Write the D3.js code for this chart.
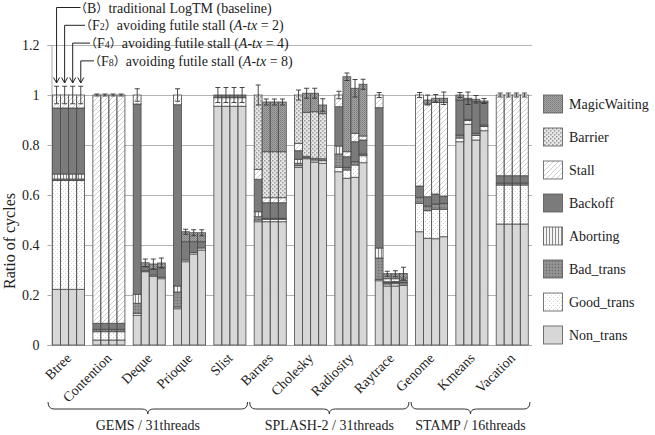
<!DOCTYPE html>
<html><head><meta charset="utf-8">
<script src="https://cdn.jsdelivr.net/npm/d3@7"></script>
<style>
html,body{margin:0;padding:0;background:#fff;}
svg{display:block;}
</style></head>
<body><svg id="c" width="655" height="435" font-family="Liberation Serif"></svg>
<script>
const categories = ["Btree","Contention","Deque","Prioque","Slist","Barnes","Cholesky","Radiosity","Raytrace","Genome","Kmeans","Vacation"];
const variants = ["B","F2","F4","F8"];
const seriesNames = ["Non_trans","Good_trans","Bad_trans","Aborting","Backoff","Stall","Barrier","MagicWaiting"];
const groupNames = ["GEMS / 31threads","SPLASH-2 / 31threads","STAMP / 16threads"];
const groupSpans = [[0,4],[5,8],[9,11]];
const yTicks = [0,0.2,0.4,0.6,0.8,1,1.2];
const yTickLabels = ["0","0.2","0.4","0.6","0.8","1","1.2"];

const nonTrans  = [[.223,.223,.223,.223],[.02,.02,.02,.02],[.119,.293,.275,.265],[.145,.333,.364,.38],[.955,.955,.955,.955],[.493,.493,.493,.493],[.711,.745,.732,.727],[.693,.667,.671,.729],[.257,.236,.236,.238],[.453,.427,.425,.433],[.813,.883,.82,.857],[.484,.484,.484,.484]];
const goodTrans = [[.435,.435,.435,.435],[.033,.033,.033,.033],[.008,.004,.005,.006],[.007,.007,.006,.008],[.034,.034,.034,.034],[.007,.01,.01,.01],[.006,.004,.008,.01],[.018,.033,.049,.028],[.006,.008,.009,.006],[.114,.11,.118,.11],[.015,.015,.018,.017],[.156,.156,.156,.156]];
const badTrans  = [[.006,.006,.006,.006],[.01,.01,.01,.01],[.04,0,0,0],[.06,0,0,0],[0,0,0,0],[.013,.004,.004,.004],[.01,.006,.007,.008],[.053,.011,.013,.007],[.085,.005,.005,.006],[.024,.019,.021,.024],[.012,.005,.009,.006],[.008,.008,.008,.008]];
const aborting  = [[.02,.02,.02,.02],[0,0,0,0],[.036,0,0,0],[.024,0,0,0],[0,0,0,0],[.02,0,0,0],[.016,0,0,0],[.032,0,0,0],[.04,0,0,0],[0,0,0,0],[0,0,0,0],[0,0,0,0]];
const backoff   = [[.264,.264,.264,.264],[.024,.024,.024,.024],[.761,.016,.023,.04],[.725,.073,.043,.025],[.011,.011,.011,.011],[.13,.062,.062,.062],[.034,0,0,0],[.157,.042,.08,.056],[.561,.004,.004,.01],[.045,.037,.04,.029],[.14,.078,.128,.09],[.029,.029,.029,.029]];
const stall     = [[.052,.052,.052,.052],[.913,.913,.913,.913],[.036,0,0,0],[.039,0,0,0],[0,0,0,0],[.04,.02,.02,.02],[.03,0,0,0],[.047,.02,.034,.016],[.051,.012,.011,.008],[.364,.371,.366,.374],[0,0,0,0],[.323,.323,.323,.323]];
const barrier   = [[0,0,0,0],[0,0,0,0],[0,0,0,0],[0,0,0,0],[0,0,0,0],[.297,.184,.184,.184],[.193,.176,.186,.18],[0,0,0,0],[0,0,0,0],[0,0,0,0],[0,0,0,0],[0,0,0,0]];
const magicWaiting = [[0,0,0,0],[0,0,0,0],[0,.016,.021,.017],[0,.04,.036,.036],[0,0,0,0],[0,.199,.199,.199],[0,.076,.074,.035],[0,.3,.18,.207],[0,.02,.02,.018],[0,.016,.017,.017],[.02,.006,.008,.006],[0,0,0,0]];
const errors    = [[.035,.035,.035,.035],[.004,.004,.004,.004],[.025,.015,.02,.02],[.025,.01,.012,.012],[.03,.03,.03,.03],[.04,.012,.012,.012],[.02,.02,.02,.025],[.015,.015,.035,.02],[.01,.01,.012,.025],[.01,.02,.015,.025],[.01,.025,.015,.01],[.008,.008,.008,.008]];

const seriesData = [nonTrans,goodTrans,badTrans,aborting,backoff,stall,barrier,magicWaiting];
const SERIF = "Liberation Serif";
const CJK = "Noto Sans CJK JP";

const svg = d3.select("#c");
const defs = svg.append("defs");
function pat(id,w,h,bg,draw){
  const p = defs.append("pattern").attr("id",id).attr("patternUnits","userSpaceOnUse").attr("width",w).attr("height",h);
  p.append("rect").attr("width",w).attr("height",h).attr("fill",bg);
  draw(p);
}
pat("pGood",4,4,"#ffffff",p=>{p.append("rect").attr("x",1).attr("y",1).attr("width",1).attr("height",1).attr("fill","#c8c8c8");p.append("rect").attr("x",3).attr("y",3).attr("width",1).attr("height",1).attr("fill","#dcdcdc");});
pat("pBad",3,3,"#8c8c8c",p=>{p.append("rect").attr("x",0).attr("y",0).attr("width",1).attr("height",1).attr("fill","#6e6e6e");p.append("rect").attr("x",1.5).attr("y",1.5).attr("width",1).attr("height",1).attr("fill","#a8a8a8");});
pat("pAbort",3,3,"#f4f4f4",p=>{p.append("rect").attr("x",0).attr("y",0).attr("width",1).attr("height",3).attr("fill","#8a8a8a");});
pat("pStall",5,5,"#ffffff",p=>{p.append("path").attr("d","M0,5 L5,0 M-1,1 L1,-1 M4,6 L6,4").attr("stroke","#cfcfcf").attr("stroke-width",1);});
pat("pBarrier",4,4,"#e6e6e6",p=>{p.append("rect").attr("x",0).attr("y",0).attr("width",1.5).attr("height",1.5).attr("fill","#9a9a9a");p.append("rect").attr("x",2).attr("y",2).attr("width",1.5).attr("height",1.5).attr("fill","#9a9a9a");});
pat("pMagic",2,2,"#a4a4a4",p=>{p.append("rect").attr("x",0).attr("y",0).attr("width",1).attr("height",1).attr("fill","#7a7a7a");p.append("rect").attr("x",1).attr("y",1).attr("width",1).attr("height",1).attr("fill","#8a8a8a");});
const fills = ["#d7d7d7","url(#pGood)","url(#pBad)","url(#pAbort)","#7b7b7b","url(#pStall)","url(#pBarrier)","url(#pMagic)"];

const x0 = d3.scaleBand().domain(categories).range([48,532]).paddingInner(0.2).paddingOuter(0.1);
const x1 = d3.scaleBand().domain(variants).range([0,x0.bandwidth()]);
const y = d3.scaleLinear().domain([0,1.2]).range([345,45]);

// grid
svg.append("g").selectAll("line").data(yTicks.slice(1)).join("line")
  .attr("x1",51.5).attr("x2",532).attr("y1",d=>Math.round(y(d))+0.5).attr("y2",d=>Math.round(y(d))+0.5)
  .attr("stroke","#b4b4b4").attr("stroke-width",1);
// y axis
const yAxis = d3.axisLeft(y).tickValues(yTicks).tickFormat((d,i)=>yTickLabels[i]).tickSize(4).tickPadding(8);
const ga = svg.append("g").attr("transform","translate(51.5,0)").call(yAxis).attr("font-family",SERIF).attr("font-size",14);
ga.select(".domain").attr("stroke","#aaaaaa");
ga.selectAll(".tick line").attr("stroke","#aaaaaa");
ga.selectAll(".tick text").attr("font-family",SERIF).attr("font-size",14).attr("fill","#222");
svg.append("line").attr("x1",51.5).attr("x2",532).attr("y1",345.5).attr("y2",345.5).attr("stroke","#aaaaaa");

// rows
const rows = [];
categories.forEach((c,gi)=>variants.forEach((v,vi)=>{
  const r = {cat:c,variant:v,gi,vi,err:errors[gi][vi]};
  seriesNames.forEach((s,si)=>r[s]=seriesData[si][gi][vi]);
  rows.push(r);
}));
const stack = d3.stack().keys(seriesNames)(rows);

const bars = svg.append("g");
stack.forEach((layer,si)=>{
  bars.append("g").selectAll("rect").data(layer.filter(d=>d[1]-d[0]>0)).join("rect")
    .attr("x",d=>x0(d.data.cat)+x1(d.data.variant)+0.5)
    .attr("width",x1.bandwidth()-0.2)
    .attr("y",d=>y(d[1]))
    .attr("height",d=>y(d[0])-y(d[1]))
    .attr("fill",fills[si])
    .attr("stroke","#4a4a4a").attr("stroke-width",0.8);
});

// error bars
const eb = svg.append("g").attr("stroke","#333").attr("stroke-width",0.9).attr("fill","none");
rows.forEach(r=>{
  const tot = seriesNames.reduce((a,s)=>a+r[s],0);
  const cx = x0(r.cat)+x1(r.variant)+x1.bandwidth()/2+0.5;
  const yt = y(tot+r.err), yb = y(tot-r.err);
  eb.append("path").attr("d",`M${cx},${yt}V${yb}M${cx-2.5},${yt}H${cx+2.5}M${cx-2.5},${yb}H${cx+2.5}`);
});

// x labels
svg.append("g").selectAll("text").data(categories).join("text")
  .attr("transform",d=>`translate(${x0(d)+x0.bandwidth()/2+4},${359}) rotate(-45)`)
  .attr("text-anchor","end").attr("font-family",SERIF).attr("font-size",14).attr("fill","#222").text(d=>d);

// braces
groupSpans.forEach((s,i)=>{
  const xa = x0(categories[s[0]])-4, xb = x0(categories[s[1]])+x0.bandwidth()+2;
  const xm = (xa+xb)/2, y0=402, ym=409, yt=414;
  svg.append("path").attr("fill","none").attr("stroke","#333").attr("stroke-width",1)
    .attr("d",`M${xa},${y0} Q${xa},${ym} ${xa+6},${ym} L${xm-6},${ym} Q${xm},${ym} ${xm},${yt} Q${xm},${ym} ${xm+6},${ym} L${xb-6},${ym} Q${xb},${ym} ${xb},${y0}`);
  svg.append("text").attr("x",xm).attr("y",430).attr("text-anchor","middle").attr("font-family",SERIF).attr("font-size",14).attr("fill","#222").text(groupNames[i]);
});

// legend
const legendOrder = seriesNames.map((s,i)=>i).reverse();
legendOrder.forEach((si,k)=>{
  const cy = 104 + k*33;
  svg.append("rect").attr("x",543.5).attr("y",cy-9).attr("width",19).attr("height",18).attr("fill",fills[si]).attr("stroke","#555").attr("stroke-width",0.8);
  svg.append("text").attr("x",569).attr("y",cy+5).attr("font-family",SERIF).attr("font-size",14).attr("fill","#222").text(seriesNames[si]);
});

// y label
svg.append("text").attr("transform","translate(15,241) rotate(-90)").attr("text-anchor","middle").attr("font-family",SERIF).attr("font-size",16).attr("fill","#222").text("Ratio of cycles");

// annotations
const ann = [
  {sub:"B", small:false, rest:"traditional LogTM (baseline)", n:null},
  {sub:"F", small:"2", rest:"avoiding futile stall (", n:"2"},
  {sub:"F", small:"4", rest:"avoiding futile stall (", n:"4"},
  {sub:"F", small:"8", rest:"avoiding futile stall (", n:"8"}
];
const lineEnds = [80.5,85,90,94];
const textStarts = [75,80,85,89];
ann.forEach((a,i)=>{
  const cx = x0(categories[0])+x1(variants[i])+x1.bandwidth()/2+0.5;
  const ly = 7.5 + i*17.8;
  svg.append("path").attr("fill","none").attr("stroke","#222").attr("stroke-width",1)
    .attr("d",`M${lineEnds[i]},${ly}H${cx}V${83}M${cx-3},${77.5}L${cx},${83}L${cx+3},${77.5}`);
  const t = svg.append("text").attr("x",textStarts[i]).attr("y",ly+5).attr("font-family",SERIF).attr("font-size",14).attr("fill","#222");
  t.append("tspan").attr("font-family",CJK).attr("font-size",12).text("（");
  t.append("tspan").attr("font-family",SERIF).text(a.sub);
  if(a.small) t.append("tspan").attr("font-family",SERIF).attr("font-size",10).text(a.small);
  t.append("tspan").attr("font-family",CJK).attr("font-size",12).text("）");
  t.append("tspan").attr("font-family",SERIF).text(a.rest);
  if(a.n){
    t.append("tspan").attr("font-family",SERIF).attr("font-style","italic").text("A");
    t.append("tspan").attr("font-family",SERIF).text("-");
    t.append("tspan").attr("font-family",SERIF).attr("font-style","italic").text("tx");
    t.append("tspan").attr("font-family",SERIF).text(" = "+a.n+")");
  }
});
</script></body></html>
